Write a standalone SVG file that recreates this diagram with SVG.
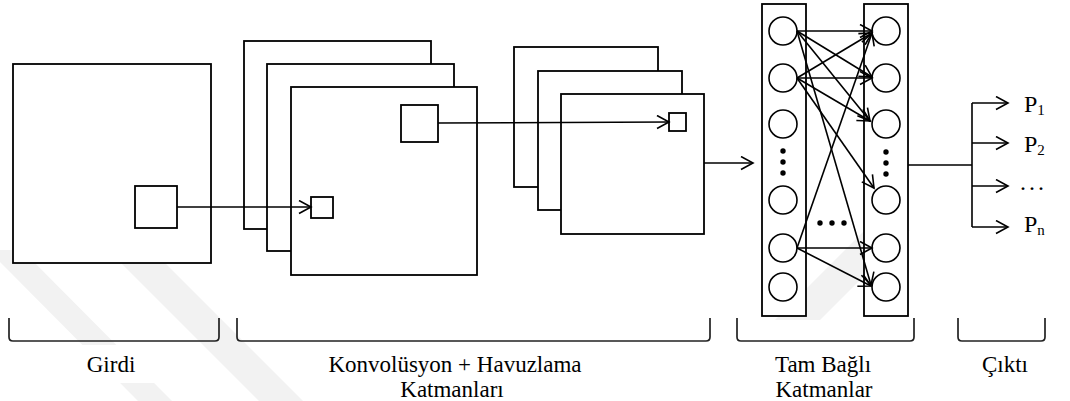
<svg xmlns="http://www.w3.org/2000/svg" width="1070" height="401" viewBox="0 0 1070 401">
<defs>
<marker id="arr" markerUnits="userSpaceOnUse" markerWidth="16" markerHeight="16" refX="13" refY="7.5" orient="auto"><path d="M1,1 L13,7.5 L1,14" fill="none" stroke="#000" stroke-width="1.6"/></marker>
</defs>
<style>
.box{fill:#fff;stroke:#000;stroke-width:1.8}
.ln{fill:none;stroke:#000;stroke-width:1.6}
.c{fill:#fff;stroke:#000;stroke-width:1.6}
.dot{fill:#000}
.br{fill:none;stroke:#222;stroke-width:1.7}
.t{font-family:"Liberation Serif","Times New Roman",serif;font-size:23px;fill:#000}
.p{font-family:"Liberation Serif","Times New Roman",serif;font-size:24px;fill:#000}
.s{font-size:15px}
.wm{fill:#f2f2f2}
.bg{fill:#fff}
</style>
<rect x="0" y="0" width="1070" height="401" fill="#fff"/>
<g id="watermark">
<polygon class="wm" points="-12,250 22,250 172,401 138,401"/>
<polygon class="wm" points="108,250 152,250 303,401 259,401"/>
<polygon class="wm" points="865,230 910,230 820,320 775,320"/>
<rect class="bg" x="63" y="345" width="94" height="38"/>
<rect class="bg" x="305" y="343" width="320" height="58"/>
</g>
<g id="input">
<rect class="box" x="13" y="64" width="198" height="199"/>
<rect class="box" x="135" y="186" width="42" height="42"/>
</g>
<g id="conv">
<rect class="box" x="244" y="41" width="187" height="188"/>
<rect class="box" x="267" y="64" width="187" height="187"/>
<rect class="box" x="291" y="87" width="186" height="188"/>
<rect class="box" x="311" y="197" width="22" height="21"/>
<rect class="box" x="401" y="105" width="37" height="37"/>
</g>
<g id="pool">
<rect class="box" x="514" y="47" width="144" height="140"/>
<rect class="box" x="538" y="71" width="144" height="139"/>
<rect class="box" x="561" y="94" width="143" height="140"/>
<rect class="box" x="669" y="113" width="17" height="18"/>
</g>
<g id="fc-left">
<rect class="box" x="762" y="4" width="44" height="312"/>
<circle class="c" cx="783" cy="31" r="14"/>
<circle class="c" cx="783" cy="78" r="14"/>
<circle class="c" cx="783" cy="124" r="14"/>
<circle class="dot" cx="783" cy="151" r="2.7"/>
<circle class="dot" cx="783" cy="162" r="2.7"/>
<circle class="dot" cx="783" cy="173" r="2.7"/>
<circle class="c" cx="783" cy="200" r="14"/>
<circle class="c" cx="783" cy="248" r="14"/>
<circle class="c" cx="783" cy="287" r="14"/>
</g>
<g id="fc-right">
<rect class="box" x="864" y="4" width="44" height="312"/>
<circle class="c" cx="886" cy="31" r="14"/>
<circle class="c" cx="886" cy="78" r="14"/>
<circle class="c" cx="886" cy="124" r="14"/>
<circle class="dot" cx="886" cy="152" r="2.7"/>
<circle class="dot" cx="886" cy="163" r="2.7"/>
<circle class="dot" cx="886" cy="174" r="2.7"/>
<circle class="c" cx="886" cy="200" r="14"/>
<circle class="c" cx="886" cy="248" r="14"/>
<circle class="c" cx="886" cy="287" r="14"/>
</g>
<g id="fc-dots">
<circle class="dot" cx="820" cy="223" r="2.7"/>
<circle class="dot" cx="832" cy="223" r="2.7"/>
<circle class="dot" cx="844" cy="223" r="2.7"/>
</g>
<g id="connectors">
<line class="ln" x1="177" y1="207" x2="311" y2="207" marker-end="url(#arr)"/>
<line class="ln" x1="438" y1="123" x2="669" y2="122" marker-end="url(#arr)"/>
<line class="ln" x1="704" y1="163" x2="753" y2="163" marker-end="url(#arr)"/>
<line class="ln" x1="797" y1="31" x2="872" y2="31" marker-end="url(#arr)"/>
<line class="ln" x1="797" y1="31" x2="872" y2="77" marker-end="url(#arr)"/>
<line class="ln" x1="797" y1="31" x2="870" y2="121" marker-end="url(#arr)"/>
<line class="ln" x1="797" y1="31" x2="871" y2="285" marker-end="url(#arr)"/>
<line class="ln" x1="797" y1="78" x2="872" y2="33" marker-end="url(#arr)"/>
<line class="ln" x1="797" y1="78" x2="872" y2="78" marker-end="url(#arr)"/>
<line class="ln" x1="797" y1="78" x2="870" y2="121" marker-end="url(#arr)"/>
<line class="ln" x1="797" y1="78" x2="874" y2="188" marker-end="url(#arr)"/>
<line class="ln" x1="797" y1="248" x2="872" y2="33" marker-end="url(#arr)"/>
<line class="ln" x1="797" y1="248" x2="872" y2="248" marker-end="url(#arr)"/>
<line class="ln" x1="797" y1="248" x2="871" y2="286" marker-end="url(#arr)"/>
<path class="ln" d="M908,165 H972 M972,103 V227"/>
<line class="ln" x1="972" y1="103" x2="1008" y2="103" marker-end="url(#arr)"/>
<line class="ln" x1="972" y1="143" x2="1008" y2="143" marker-end="url(#arr)"/>
<line class="ln" x1="972" y1="186" x2="1008" y2="186" marker-end="url(#arr)"/>
<line class="ln" x1="972" y1="227" x2="1008" y2="227" marker-end="url(#arr)"/>
</g>
<g id="outputs">
<text class="p" x="1024" y="112">P<tspan class="s" dy="3">1</tspan></text>
<text class="p" x="1024" y="152">P<tspan class="s" dy="3">2</tspan></text>
<text class="p" x="1020" y="190" letter-spacing="3">...</text>
<text class="p" x="1024" y="232">P<tspan class="s" dy="3">n</tspan></text>
</g>
<g id="brackets">
<path class="br" d="M9,318 V337 Q9,341 13,341 H215 Q219,341 219,337 V318"/>
<path class="br" d="M237,318 V337 Q237,341 241,341 H706 Q710,341 710,337 V318"/>
<path class="br" d="M737,318 V337 Q737,341 741,341 H910 Q914,341 914,337 V318"/>
<path class="br" d="M958,318 V337 Q958,341 962,341 H1041 Q1045,341 1045,337 V318"/>
</g>
<g id="labels">
<text class="t" x="111" y="372" text-anchor="middle">Girdi</text>
<text class="t" x="455" y="372" text-anchor="middle">Konvolüsyon + Havuzlama</text>
<text class="t" x="452" y="397" text-anchor="middle">Katmanları</text>
<text class="t" x="823" y="372" text-anchor="middle">Tam Bağlı</text>
<text class="t" x="824" y="397" text-anchor="middle">Katmanlar</text>
<text class="t" x="1005" y="372" text-anchor="middle">Çıktı</text>
</g>
</svg>
